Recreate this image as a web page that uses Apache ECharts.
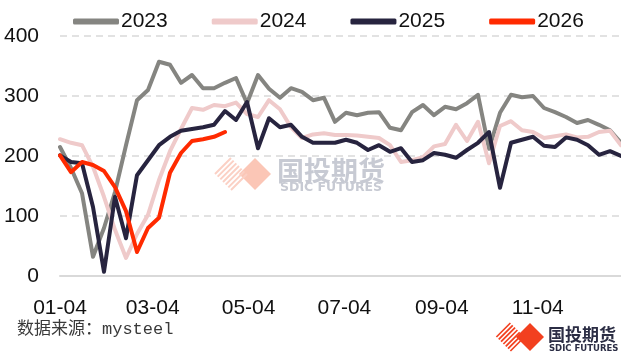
<!DOCTYPE html>
<html>
<head>
<meta charset="utf-8">
<script src="https://cdn.jsdelivr.net/npm/echarts@6/dist/echarts.min.js"></script>
<style>
html,body{margin:0;padding:0;background:#fff;}
#chart{width:621px;height:355px;}
</style>
</head>
<body>
<div id="chart"></div>
<script>
// ---- data ----
var seriesNames = ['2023', '2024', '2025', '2026'];
var tickLabels = ['01-04', '03-04', '05-04', '07-04', '09-04', '11-04'];
var tickDays = [0, 59, 120, 181, 243, 304];   // days after 01-04
var weekStep = 7;                              // one point per week

var v2023 = [215, 180, 138, 32, 80, 140, 218, 293, 310, 357, 352, 322, 335, 313, 313, 322, 330, 288, 335, 312,
             297, 313, 307, 293, 297, 257, 272, 268, 272, 273, 247, 243, 273, 285, 268, 282, 278, 288, 302, 212,
             272, 302, 298, 300, 280, 273, 265, 255, 260, 252, 243, 222];
var v2024 = [228, 222, 218, 182, 132, 77, 30, 70, 102, 160, 208, 245, 280, 277, 285, 283, 289, 270, 265, 293,
             278, 248, 230, 236, 238, 235, 235, 234, 232, 230, 218, 190, 193, 198, 216, 220, 252, 225, 257, 188,
             250, 258, 243, 240, 230, 233, 236, 231, 232, 240, 242, 218];
var v2025 = [201, 190, 188, 115, 7, 132, 63, 168, 193, 218, 232, 242, 245, 248, 252, 275, 260, 290, 213, 263,
             248, 252, 232, 222, 222, 222, 227, 222, 210, 218, 207, 213, 190, 193, 205, 202, 197, 210, 222, 240,
             147, 222, 227, 232, 217, 215, 231, 227, 218, 202, 208, 200];
var v2026 = [201, 173, 190, 185, 175, 148, 108, 40, 80, 97, 172, 205, 225, 228, 232, 240];

var colors = ['#858581', '#efcaca', '#27243f', '#ff2a00'];
var allValues = [v2023, v2024, v2025, v2026];

function toPairs(arr) {
  return arr.map(function (v, i) { return [i * weekStep, v]; });
}

var chart = echarts.init(document.getElementById('chart'), null, {renderer: 'canvas'});
var baseFont = "'Liberation Sans', Arial, sans-serif";

// decorative logo (watermark + corner)
function logo(cx, cy, r, stripeColor, solidColor, z, shift) {
  var els = [];
  els.push({
    type: 'polygon', z: z, silent: true,
    shape: {points: [[cx, cy - r], [cx + r, cy], [cx, cy + r], [cx - r, cy]]},
    style: {fill: solidColor}
  });
  var a = cx - r * shift, b = cy;
  var n = 6;
  for (var k = 0; k <= n; k++) {
    var s = -r + (2 * r) * k / n;
    var x1 = a + (s - r) / 2, y1 = b + (s + r) / 2;
    var x2 = a + (s + r) / 2, y2 = b + (s - r) / 2;
    els.push({
      type: 'line', z: z, silent: true,
      shape: {x1: x1, y1: y1, x2: x2, y2: y2},
      style: {stroke: stripeColor, lineWidth: r / 8}
    });
  }
  return els;
}

var graphics = [];
graphics = graphics.concat(logo(255, 174, 16, '#fbd0c4', '#fbc6b6', 0, 1.5));
graphics.push({
  type: 'text', left: 277, top: 157, z: 0, silent: true,
  style: {text: '国投期货', font: "bold 27px 'Noto Sans CJK SC', sans-serif", fill: '#c7cad3'}
});
graphics.push({
  type: 'text', left: 280, top: 181, z: 0, silent: true,
  style: {text: 'SDIC FUTURES', font: "bold 12.5px 'DejaVu Sans', sans-serif", fill: '#c7cad3'}
});
graphics = graphics.concat(logo(530, 337, 14, '#f2401f', '#f2401f', 10, 1.4));
graphics.push({
  type: 'text', left: 548, top: 326, z: 10, silent: true,
  style: {text: '国投期货', font: "bold 17px 'Noto Sans CJK SC', sans-serif", fill: '#2b2d44'}
});
graphics.push({
  type: 'text', left: 549, top: 344, z: 10, silent: true,
  style: {text: 'SDIC FUTURES', font: "bold 8.5px 'DejaVu Sans', sans-serif", fill: '#2b2d44'}
});
graphics.push({
  type: 'text', left: 17, top: 321, z: 10, silent: true,
  style: {text: '数据来源：mysteel', font: "17px 'Liberation Mono', 'Noto Sans CJK SC', monospace", fill: '#3a3a3a'}
});

var option = {
  animation: false,
  backgroundColor: '#fff',
  color: colors,
  grid: {left: 60, right: 0, top: 36, bottom: 79, containLabel: false},
  legend: {
    top: 6, left: 68,
    itemWidth: 46, itemHeight: 6, itemGap: 44,
    icon: 'roundRect',
    textStyle: {fontFamily: baseFont, fontSize: 21, color: '#111', padding: [0, 0, 0, -3]},
    data: seriesNames
  },
  xAxis: {
    type: 'value', min: 0, max: 51 * weekStep,
    axisLine: {show: true, onZero: false, lineStyle: {color: '#d9d9d9', width: 2}},
    axisTick: {show: false},
    splitLine: {show: false},
    axisLabel: {
      customValues: tickDays,
      formatter: function (val) {
        var idx = tickDays.indexOf(Math.round(val));
        return idx >= 0 ? tickLabels[idx] : '';
      },
      fontFamily: baseFont, fontSize: 21, color: '#111', margin: 22,
      showMinLabel: true, showMaxLabel: true, hideOverlap: false
    }
  },
  yAxis: {
    type: 'value', min: 0, max: 400, interval: 100,
    axisLine: {show: false},
    axisTick: {show: false},
    splitLine: {lineStyle: {color: '#d9d9d9', width: 1.5, type: [7, 5]}},
    axisLabel: {fontFamily: baseFont, fontSize: 21, color: '#111', margin: 21}
  },
  graphic: graphics,
  series: seriesNames.map(function (name, i) {
    return {
      name: name, type: 'line', showSymbol: false, symbol: 'none',
      data: toPairs(allValues[i]),
      lineStyle: {width: 4, color: colors[i], cap: 'round', join: 'round'},
      itemStyle: {color: colors[i]},
      z: 2 + i
    };
  })
};
chart.setOption(option);
</script>
</body>
</html>
